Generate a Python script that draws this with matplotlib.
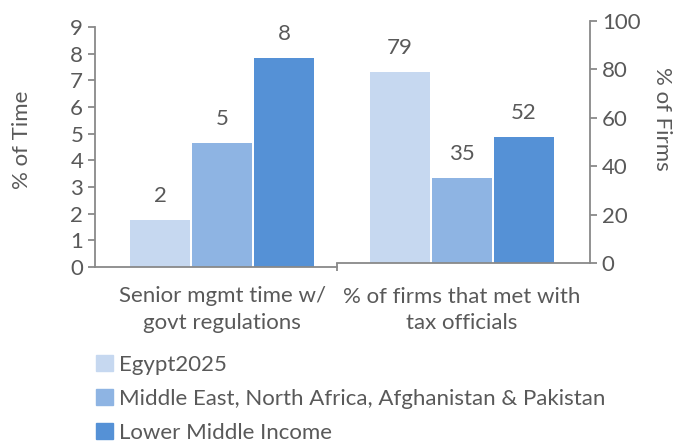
import matplotlib.pyplot as plt
from matplotlib.patches import Patch

plt.rcParams['font.family'] = ['Lato', 'DejaVu Sans']

# 数据
series = ['Egypt2025', 'Middle East, North Africa, Afghanistan & Pakistan', 'Lower Middle Income']
colors = ['#C6D8F0', '#8EB4E3', '#5591D6']
time_vals = [1.75, 4.65, 7.85]
time_labels = ['2', '5', '8']
firm_vals = [79, 35, 52]
firm_labels = ['79', '35', '52']
categories = ['Senior mgmt time w/\ngovt regulations', '% of firms that met with\ntax officials']

txt = '#595959'
spine = '#898989'
fs = 16

W, H = 683, 443
fig = plt.figure(figsize=(W / 100, H / 100), dpi=100)

# 左轴（时间）和右轴（企业）
ax1 = fig.add_axes([95 / W, (H - 267) / H, 242 / W, 240 / H])
ax2 = fig.add_axes([337 / W, (H - 263) / H, 253 / W, 242.3 / H])

offs = [-0.256, 0, 0.256]
bw = 0.248

for i in range(3):
    ax1.bar(0 + offs[i], time_vals[i], bw, color=colors[i])
    ax1.annotate(time_labels[i], (0 + offs[i], time_vals[i]), xytext=(0, 10),
                 textcoords='offset points', ha='center', va='bottom', fontsize=fs, color=txt)
    ax2.bar(1 + offs[i], firm_vals[i], bw, color=colors[i])
    ax2.annotate(firm_labels[i], (1 + offs[i], firm_vals[i]), xytext=(0, 10),
                 textcoords='offset points', ha='center', va='bottom', fontsize=fs, color=txt)

ax1.set_xlim(-0.525, 0.475)
ax1.set_ylim(0, 9)
ax1.set_yticks(range(10))
ax2.set_xlim(0.483, 0.483 + 253 / 242)
ax2.set_ylim(0, 100)
ax2.set_yticks(range(0, 101, 20))

for ax in (ax1, ax2):
    for s in ax.spines.values():
        s.set_visible(False)
    ax.spines['bottom'].set_visible(True)
    ax.spines['bottom'].set_color(spine)
    ax.spines['bottom'].set_linewidth(1.3)
    ax.patch.set_visible(False)
    ax.tick_params(colors=spine, labelcolor=txt, labelsize=fs, width=1.3, length=5)

ax1.spines['left'].set_visible(True)
ax1.spines['left'].set_color(spine)
ax1.spines['left'].set_linewidth(1.3)
ax2.spines['right'].set_visible(True)
ax2.spines['right'].set_color(spine)
ax2.spines['right'].set_linewidth(1.3)
ax2.yaxis.tick_right()

ax1.set_xticks([0])
ax1.set_xticklabels([categories[0]], linespacing=1.4)
ax2.set_xticks([1])
ax2.set_xticklabels([categories[1]], linespacing=1.4)
ax1.tick_params(axis='x', length=0, pad=14)
ax2.tick_params(axis='x', length=0, pad=17)
ax2.set_xticks([0.483], minor=True)
ax2.tick_params(axis='x', which='minor', length=6, width=1.3, colors=spine)

fig.text(22 / W, 1 - 140 / H, '% of Time', rotation=90, ha='center', va='center', fontsize=fs, color=txt)
fig.text(662 / W, 1 - 119 / H, '% of Firms', rotation=-90, ha='center', va='center', fontsize=fs, color=txt)

handles = [Patch(color=c) for c in colors]
fig.legend(handles, series, loc='upper left', bbox_to_anchor=(96 / W, 1 - 355 / H),
           frameon=False, fontsize=fs, labelcolor=txt, handlelength=0.75, handleheight=0.75,
           handletextpad=0.3, labelspacing=0.63, borderpad=0, borderaxespad=0)

fig.savefig('out.png', dpi=100)
